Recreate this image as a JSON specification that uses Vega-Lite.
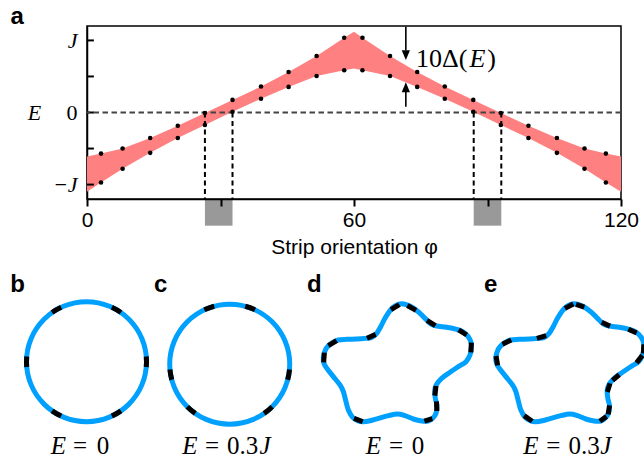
{
  "$schema": "https://vega.github.io/schema/vega-lite/v6.json",
  "width": 534,
  "height": 173,
  "autosize": {"type": "none"},
  "padding": {"left": 87, "top": 26, "right": 23, "bottom": 260},
  "background": "white",
  "config": {"view": {"stroke": "black", "strokeWidth": 1.5}, "axis": {"grid": false}},
  "title": {"text": "a", "anchor": "start", "frame": "group", "orient": "top", "offset": 0, "baseline": "alphabetic", "dx": -76.5, "dy": 22.5, "font": "Liberation Sans", "fontSize": 24, "fontWeight": "bold", "color": "black"},
  "datasets": {
    "band": [
      {"phi": 0, "lo": -1.1, "hi": -0.61, "dot": false},
      {"phi": 3.15, "lo": -0.97, "hi": -0.57, "dot": true},
      {"phi": 8.0, "lo": -0.78, "hi": -0.5, "dot": true},
      {"phi": 14.2, "lo": -0.56, "hi": -0.354, "dot": true},
      {"phi": 20.4, "lo": -0.354, "hi": -0.184, "dot": true},
      {"phi": 26.5, "lo": -0.174, "hi": -0.008, "dot": true},
      {"phi": 32.7, "lo": 0.01, "hi": 0.175, "dot": true},
      {"phi": 39.1, "lo": 0.19, "hi": 0.36, "dot": true},
      {"phi": 45.3, "lo": 0.355, "hi": 0.562, "dot": true},
      {"phi": 51.6, "lo": 0.507, "hi": 0.783, "dot": true},
      {"phi": 57.8, "lo": 0.586, "hi": 1.036, "dot": true},
      {"phi": 60, "lo": 0.61, "hi": 1.12, "dot": false},
      {"phi": 61.9, "lo": 0.586, "hi": 1.036, "dot": true},
      {"phi": 68.1, "lo": 0.507, "hi": 0.783, "dot": true},
      {"phi": 74.2, "lo": 0.355, "hi": 0.562, "dot": true},
      {"phi": 80.4, "lo": 0.19, "hi": 0.36, "dot": true},
      {"phi": 86.8, "lo": 0.01, "hi": 0.175, "dot": true},
      {"phi": 93.0, "lo": -0.174, "hi": -0.008, "dot": true},
      {"phi": 99.2, "lo": -0.354, "hi": -0.184, "dot": true},
      {"phi": 105.6, "lo": -0.56, "hi": -0.354, "dot": true},
      {"phi": 111.8, "lo": -0.78, "hi": -0.5, "dot": true},
      {"phi": 116.6, "lo": -0.97, "hi": -0.57, "dot": true},
      {"phi": 120, "lo": -1.1, "hi": -0.61, "dot": false}
    ],
    "yticks": [{"v": -1}, {"v": -0.5}, {"v": 0}, {"v": 0.5}, {"v": 1}],
    "vlines": [{"phi": 26.5}, {"phi": 32.7}, {"phi": 86.9}, {"phi": 93.1}],
    "gray": [{"a": 26.5, "b": 32.7}, {"a": 86.9, "b": 93.1}],
    "arrows": [
      {"phi": 71.65, "s0": 1.19, "s1": 0.86, "tip": 0.728, "dir": "down"},
      {"phi": 71.65, "s0": 0.08, "s1": 0.29, "tip": 0.419, "dir": "up"}
    ],
    "ann": [
      {"t": "10Δ(", "phi": 79.69, "e": 0.635, "it": false},
      {"t": "E", "phi": 87.73, "e": 0.635, "it": true},
      {"t": ")", "phi": 90.92, "e": 0.635, "it": false}
    ],
    "rings": [
      {"cx": 0, "cy": 0, "a0": 0, "a1": 360},
      {"cx": 2.387, "cy": -0.042, "a0": 0, "a1": 360}
    ],
    "rdash": [
      {"cx": 0, "cy": 0, "a0": 25, "a1": 35},
      {"cx": 0, "cy": 0, "a0": 85, "a1": 95},
      {"cx": 0, "cy": 0, "a0": 145, "a1": 155},
      {"cx": 0, "cy": 0, "a0": 205, "a1": 215},
      {"cx": 0, "cy": 0, "a0": 265, "a1": 275},
      {"cx": 0, "cy": 0, "a0": 325, "a1": 335},
      {"cx": 2.387, "cy": -0.042, "a0": 335, "a1": 345},
      {"cx": 2.387, "cy": -0.042, "a0": 15, "a1": 25},
      {"cx": 2.387, "cy": -0.042, "a0": 95, "a1": 105},
      {"cx": 2.387, "cy": -0.042, "a0": 135, "a1": 145},
      {"cx": 2.387, "cy": -0.042, "a0": 215, "a1": 225},
      {"cx": 2.387, "cy": -0.042, "a0": 255, "a1": 265}
    ],
    "star": [
      {"i": 1, "x": 5.253, "xe": 8.128, "y": 0.967},
      {"i": 2, "x": 5.42, "xe": 8.295, "y": 0.912},
      {"i": 3, "x": 5.558, "xe": 8.433, "y": 0.806},
      {"i": 4, "x": 5.669, "xe": 8.544, "y": 0.695},
      {"i": 5, "x": 5.742, "xe": 8.617, "y": 0.628},
      {"i": 6, "x": 5.836, "xe": 8.711, "y": 0.595},
      {"i": 7, "x": 6.003, "xe": 8.878, "y": 0.573},
      {"i": 8, "x": 6.169, "xe": 9.044, "y": 0.539},
      {"i": 9, "x": 6.27, "xe": 9.145, "y": 0.501},
      {"i": 10, "x": 6.364, "xe": 9.239, "y": 0.417},
      {"i": 11, "x": 6.414, "xe": 9.289, "y": 0.306},
      {"i": 12, "x": 6.414, "xe": 9.289, "y": 0.239},
      {"i": 13, "x": 6.392, "xe": 9.267, "y": 0.112},
      {"i": 14, "x": 6.325, "xe": 9.2, "y": 0.001},
      {"i": 15, "x": 6.197, "xe": 9.072, "y": -0.083},
      {"i": 16, "x": 6.058, "xe": 8.933, "y": -0.177},
      {"i": 17, "x": 5.919, "xe": 8.794, "y": -0.277},
      {"i": 18, "x": 5.836, "xe": 8.711, "y": -0.377},
      {"i": 19, "x": 5.803, "xe": 8.678, "y": -0.483},
      {"i": 20, "x": 5.814, "xe": 8.689, "y": -0.611},
      {"i": 21, "x": 5.842, "xe": 8.717, "y": -0.738},
      {"i": 22, "x": 5.825, "xe": 8.7, "y": -0.861},
      {"i": 23, "x": 5.769, "xe": 8.644, "y": -0.944},
      {"i": 24, "x": 5.697, "xe": 8.572, "y": -0.988},
      {"i": 25, "x": 5.586, "xe": 8.461, "y": -0.988},
      {"i": 26, "x": 5.447, "xe": 8.322, "y": -0.955},
      {"i": 27, "x": 5.308, "xe": 8.183, "y": -0.899},
      {"i": 28, "x": 5.181, "xe": 8.056, "y": -0.872},
      {"i": 29, "x": 5.031, "xe": 7.906, "y": -0.899},
      {"i": 30, "x": 4.864, "xe": 7.739, "y": -0.944},
      {"i": 31, "x": 4.725, "xe": 7.6, "y": -0.983},
      {"i": 32, "x": 4.614, "xe": 7.489, "y": -0.999},
      {"i": 33, "x": 4.531, "xe": 7.406, "y": -0.988},
      {"i": 34, "x": 4.436, "xe": 7.311, "y": -0.927},
      {"i": 35, "x": 4.364, "xe": 7.239, "y": -0.805},
      {"i": 36, "x": 4.325, "xe": 7.2, "y": -0.666},
      {"i": 37, "x": 4.281, "xe": 7.156, "y": -0.499},
      {"i": 38, "x": 4.225, "xe": 7.1, "y": -0.388},
      {"i": 39, "x": 4.114, "xe": 6.989, "y": -0.249},
      {"i": 40, "x": 4.014, "xe": 6.889, "y": -0.122},
      {"i": 41, "x": 3.958, "xe": 6.833, "y": -0.027},
      {"i": 42, "x": 3.947, "xe": 6.822, "y": 0.073},
      {"i": 43, "x": 3.981, "xe": 6.856, "y": 0.195},
      {"i": 44, "x": 4.031, "xe": 6.906, "y": 0.267},
      {"i": 45, "x": 4.097, "xe": 6.972, "y": 0.317},
      {"i": 46, "x": 4.197, "xe": 7.072, "y": 0.362},
      {"i": 47, "x": 4.336, "xe": 7.211, "y": 0.373},
      {"i": 48, "x": 4.503, "xe": 7.378, "y": 0.378},
      {"i": 49, "x": 4.642, "xe": 7.517, "y": 0.389},
      {"i": 50, "x": 4.753, "xe": 7.628, "y": 0.406},
      {"i": 51, "x": 4.836, "xe": 7.711, "y": 0.473},
      {"i": 52, "x": 4.903, "xe": 7.778, "y": 0.584},
      {"i": 53, "x": 4.975, "xe": 7.85, "y": 0.723},
      {"i": 54, "x": 5.058, "xe": 7.933, "y": 0.851},
      {"i": 55, "x": 5.142, "xe": 8.017, "y": 0.928}
    ],
    "sdash": [
      {"x1": 5.075, "y1": 0.867, "x2": 5.214, "y2": 0.953},
      {"x1": 5.347, "y1": 0.937, "x2": 5.492, "y2": 0.856},
      {"x1": 5.675, "y1": 0.69, "x2": 5.814, "y2": 0.601},
      {"x1": 6.203, "y1": 0.531, "x2": 6.336, "y2": 0.445},
      {"x1": 6.414, "y1": 0.317, "x2": 6.406, "y2": 0.156},
      {"x1": 5.825, "y1": -0.405, "x2": 5.806, "y2": -0.566},
      {"x1": 5.833, "y1": -0.661, "x2": 5.839, "y2": -0.822},
      {"x1": 5.764, "y1": -0.949, "x2": 5.631, "y2": -0.991},
      {"x1": 4.603, "y1": -0.999, "x2": 4.458, "y2": -0.944},
      {"x1": 3.964, "y1": 0.151, "x2": 3.953, "y2": -0.011},
      {"x1": 4.031, "y1": 0.267, "x2": 4.169, "y2": 0.351},
      {"x1": 4.675, "y1": 0.392, "x2": 4.819, "y2": 0.456},
      {"x1": 7.975, "y1": 0.889, "x2": 8.114, "y2": 0.962},
      {"x1": 8.158, "y1": 0.957, "x2": 8.297, "y2": 0.91},
      {"x1": 8.586, "y1": 0.656, "x2": 8.725, "y2": 0.593},
      {"x1": 9.031, "y1": 0.542, "x2": 9.169, "y2": 0.478},
      {"x1": 9.289, "y1": 0.289, "x2": 9.281, "y2": 0.139},
      {"x1": 9.264, "y1": 0.106, "x2": 9.167, "y2": -0.019},
      {"x1": 8.878, "y1": -0.217, "x2": 8.767, "y2": -0.311},
      {"x1": 8.725, "y1": -0.361, "x2": 8.681, "y2": -0.505},
      {"x1": 8.717, "y1": -0.727, "x2": 8.694, "y2": -0.877},
      {"x1": 8.667, "y1": -0.911, "x2": 8.556, "y2": -0.991},
      {"x1": 7.428, "y1": -0.992, "x2": 7.294, "y2": -0.899},
      {"x1": 6.853, "y1": -0.061, "x2": 6.825, "y2": 0.095},
      {"x1": 6.933, "y1": 0.292, "x2": 7.078, "y2": 0.363},
      {"x1": 7.506, "y1": 0.388, "x2": 7.661, "y2": 0.433}
    ],
    "letters": [
      {"t": "b", "x": -1.272, "y": 1.167},
      {"t": "c", "x": 1.125, "y": 1.167},
      {"t": "d", "x": 3.675, "y": 1.167},
      {"t": "e", "x": 6.625, "y": 1.167}
    ],
    "mathI": [
      {"t": "E", "x": -0.47, "y": -1.53},
      {"t": "E", "x": 1.725, "y": -1.53},
      {"t": "E", "x": 4.78, "y": -1.53},
      {"t": "E", "x": 7.408, "y": -1.53},
      {"t": "J", "x": 2.975, "y": -1.53},
      {"t": "J", "x": 8.656, "y": -1.53}
    ],
    "mathR": [
      {"t": "=", "x": -0.108, "y": -1.53},
      {"t": "=", "x": 2.092, "y": -1.53},
      {"t": "=", "x": 5.158, "y": -1.53},
      {"t": "=", "x": 7.78, "y": -1.53},
      {"t": "0", "x": 0.275, "y": -1.53},
      {"t": "0.3", "x": 2.6, "y": -1.53},
      {"t": "0", "x": 5.525, "y": -1.53},
      {"t": "0.3", "x": 8.294, "y": -1.53}
    ]
  },
  "layer": [
    {
      "layer": [
        {
          "data": {"name": "gray"},
          "mark": {"type": "rect", "color": "#999999"},
          "encoding": {
            "x": {"field": "a", "type": "quantitative", "scale": {"domain": [0, 120], "nice": false, "zero": false},
              "axis": {"values": [0, 30, 60, 90, 120], "labelExpr": "datum.value % 60 === 0 ? datum.label : ''", "tickSize": 7, "tickWidth": 2, "tickColor": "black", "domainColor": "black", "domainWidth": 1.5, "labelFont": "Liberation Sans", "labelFontSize": 21, "labelColor": "black", "labelPadding": 3, "labelFlush": false, "labelOverlap": false, "title": "Strip orientation φ", "titleFont": "Liberation Sans", "titleFontSize": 21, "titleFontWeight": "normal", "titleColor": "black", "titleY": 37.5, "titleBaseline": "top", "zindex": 1, "grid": false}},
            "x2": {"field": "b"},
            "y": {"datum": -1.2, "type": "quantitative", "scale": {"domain": [-1.2, 1.2], "nice": false, "zero": false},
              "axis": {"values": [-1, 0, 1], "labelExpr": "datum.value === 1 ? 'J' : datum.value === -1 ? '−J' : '0'", "ticks": false, "tickSize": 0, "domainColor": "black", "domainWidth": 1.5, "labelFont": "Liberation Serif", "labelFontSize": 22, "labelFontStyle": {"condition": {"test": "datum.value === 0", "value": "normal"}, "value": "italic"}, "labelColor": "black", "labelPadding": 10, "labelFlush": false, "title": "E", "titleFont": "Liberation Serif", "titleFontSize": 22, "titleFontStyle": "italic", "titleFontWeight": "normal", "titleAngle": 0, "titleX": -53, "titleY": 86.5, "titleAlign": "center", "titleBaseline": "middle", "titleColor": "black", "grid": false}},
            "y2": {"datum": -1.57}
          }
        },
        {
          "data": {"name": "band"},
          "mark": {"type": "area", "color": "#FF8080", "opacity": 1},
          "encoding": {
            "x": {"field": "phi", "type": "quantitative"},
            "y": {"field": "lo", "type": "quantitative"},
            "y2": {"field": "hi"}
          }
        },
        {
          "data": {"name": "yticks"},
          "mark": {"type": "rule", "color": "black", "strokeWidth": 2},
          "encoding": {
            "x": {"datum": 0},
            "x2": {"datum": 1.55},
            "y": {"field": "v", "type": "quantitative"}
          }
        },
        {
          "data": {"name": "yticks"},
          "transform": [{"filter": "datum.v === 0"}],
          "mark": {"type": "rule", "color": "#444444", "strokeWidth": 1.8, "strokeDash": [5.5, 3.5]},
          "encoding": {
            "y": {"field": "v", "type": "quantitative"}
          }
        },
        {
          "data": {"name": "vlines"},
          "mark": {"type": "rule", "color": "black", "strokeWidth": 2, "strokeDash": [5, 3.5]},
          "encoding": {
            "x": {"field": "phi", "type": "quantitative"},
            "y": {"datum": 0},
            "y2": {"datum": -1.2}
          }
        },
        {
          "data": {"name": "band"},
          "transform": [{"filter": "datum.dot"}],
          "mark": {"type": "point", "filled": true, "color": "black", "size": 21, "opacity": 1, "shape": "circle"},
          "encoding": {
            "x": {"field": "phi", "type": "quantitative"},
            "y": {"field": "lo", "type": "quantitative"}
          }
        },
        {
          "data": {"name": "band"},
          "transform": [{"filter": "datum.dot"}],
          "mark": {"type": "point", "filled": true, "color": "black", "size": 21, "opacity": 1, "shape": "circle"},
          "encoding": {
            "x": {"field": "phi", "type": "quantitative"},
            "y": {"field": "hi", "type": "quantitative"}
          }
        },
        {
          "data": {"name": "arrows"},
          "mark": {"type": "rule", "color": "black", "strokeWidth": 1.6},
          "encoding": {
            "x": {"field": "phi", "type": "quantitative"},
            "y": {"field": "s0", "type": "quantitative"},
            "y2": {"field": "s1"}
          }
        },
        {
          "data": {"name": "arrows"},
          "mark": {"type": "point", "filled": true, "color": "black", "size": 68, "opacity": 1},
          "encoding": {
            "x": {"field": "phi", "type": "quantitative"},
            "y": {"field": "tip", "type": "quantitative"},
            "shape": {"field": "dir", "type": "nominal", "scale": {"domain": ["down", "up"], "range": ["M-1,-2.4L1,-2.4L0,0Z", "M-1,2.4L1,2.4L0,0Z"]}, "legend": null}
          }
        },
        {
          "data": {"name": "ann"},
          "transform": [{"filter": "!datum.it"}],
          "mark": {"type": "text", "font": "Liberation Serif", "fontSize": 26, "color": "black", "align": "center", "baseline": "alphabetic"},
          "encoding": {
            "x": {"field": "phi", "type": "quantitative"},
            "y": {"field": "e", "type": "quantitative"},
            "text": {"field": "t"}
          }
        },
        {
          "data": {"name": "ann"},
          "transform": [{"filter": "datum.it"}],
          "mark": {"type": "text", "font": "Liberation Serif", "fontSize": 26, "fontStyle": "italic", "color": "black", "align": "center", "baseline": "alphabetic"},
          "encoding": {
            "x": {"field": "phi", "type": "quantitative"},
            "y": {"field": "e", "type": "quantitative"},
            "text": {"field": "t"}
          }
        }
      ]
    },
    {
      "layer": [
        {
          "data": {"name": "rings"},
          "mark": {"type": "arc", "innerRadius": 57.5, "outerRadius": 62.5, "color": "#00A0FF"},
          "encoding": {
            "x": {"field": "cx", "type": "quantitative", "scale": {"domain": [0.00833, 8.9083], "nice": false, "zero": false}, "axis": null},
            "y": {"field": "cy", "type": "quantitative", "scale": {"domain": [2.7117, 5.595], "nice": false, "zero": false}, "axis": null},
            "theta": {"field": "a0", "type": "quantitative", "scale": {"domain": [0, 360]}, "stack": null},
            "theta2": {"field": "a1"}
          }
        },
        {
          "data": {"name": "rdash"},
          "mark": {"type": "arc", "innerRadius": 57.5, "outerRadius": 62.5, "color": "black"},
          "encoding": {
            "x": {"field": "cx", "type": "quantitative", "axis": null},
            "y": {"field": "cy", "type": "quantitative", "axis": null},
            "theta": {"field": "a0", "type": "quantitative", "stack": null},
            "theta2": {"field": "a1"}
          }
        },
        {
          "data": {"name": "star"},
          "mark": {"type": "line", "interpolate": "cardinal-closed", "color": "#00A0FF", "strokeWidth": 5},
          "encoding": {
            "x": {"field": "x", "type": "quantitative", "axis": null},
            "y": {"field": "y", "type": "quantitative", "axis": null},
            "order": {"field": "i", "type": "quantitative"}
          }
        },
        {
          "data": {"name": "star"},
          "mark": {"type": "line", "interpolate": "cardinal-closed", "color": "#00A0FF", "strokeWidth": 5},
          "encoding": {
            "x": {"field": "xe", "type": "quantitative", "axis": null},
            "y": {"field": "y", "type": "quantitative", "axis": null},
            "order": {"field": "i", "type": "quantitative"}
          }
        },
        {
          "data": {"name": "sdash"},
          "mark": {"type": "rule", "color": "black", "strokeWidth": 5, "strokeCap": "butt"},
          "encoding": {
            "x": {"field": "x1", "type": "quantitative", "axis": null},
            "y": {"field": "y1", "type": "quantitative", "axis": null},
            "x2": {"field": "x2"},
            "y2": {"field": "y2"}
          }
        },
        {
          "data": {"name": "letters"},
          "mark": {"type": "text", "font": "Liberation Sans", "fontSize": 24, "fontWeight": "bold", "color": "black", "align": "left", "baseline": "alphabetic"},
          "encoding": {
            "x": {"field": "x", "type": "quantitative", "axis": null},
            "y": {"field": "y", "type": "quantitative", "axis": null},
            "text": {"field": "t"}
          }
        },
        {
          "data": {"name": "mathI"},
          "mark": {"type": "text", "font": "Liberation Serif", "fontSize": 25, "fontStyle": "italic", "color": "black", "align": "center", "baseline": "alphabetic"},
          "encoding": {
            "x": {"field": "x", "type": "quantitative", "axis": null},
            "y": {"field": "y", "type": "quantitative", "axis": null},
            "text": {"field": "t"}
          }
        },
        {
          "data": {"name": "mathR"},
          "mark": {"type": "text", "font": "Liberation Serif", "fontSize": 25, "color": "black", "align": "center", "baseline": "alphabetic"},
          "encoding": {
            "x": {"field": "x", "type": "quantitative", "axis": null},
            "y": {"field": "y", "type": "quantitative", "axis": null},
            "text": {"field": "t"}
          }
        }
      ]
    }
  ],
  "resolve": {"scale": {"x": "independent", "y": "independent"}}
}
